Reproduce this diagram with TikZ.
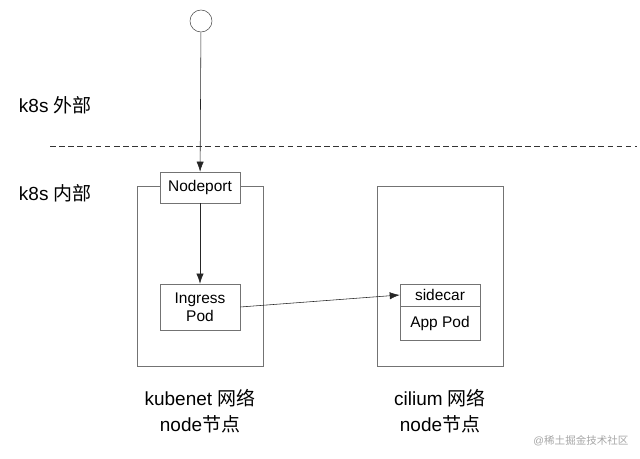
\documentclass[tikz,border=0pt]{standalone}
\usepackage{fontspec}
\setmainfont{Liberation Sans}
\newfontfamily\cjk{Noto Sans CJK SC}
\usetikzlibrary{arrows.meta}
\tikzset{
  hostbox/.style={draw=black!55, minimum width=3.15cm, minimum height=4.5cm},
  podbox/.style={draw=black!55, fill=white, minimum width=2cm, align=center, font=\fontsize{11}{12.5}\selectfont, inner sep=1pt},
  flow/.style={-{Latex[length=2.5mm,width=1.8mm]}, black!85},
  zone/.style={anchor=west, font=\fontsize{13.5}{15}\selectfont},
  hostlabel/.style={align=center, font=\fontsize{13.5}{18.5}\selectfont}
}
\begin{document}
\begin{tikzpicture}[x=0.025cm, y=-0.025cm]
        \useasboundingbox (0,0) rectangle (640,459);
        % zones
        \node[zone] (outside) at (14,105) {k8s {\cjk 外部}};
        \node[zone] (inside) at (14,193) {k8s {\cjk 内部}};
        \coordinate (cutl) at (50,146);
        \coordinate (cutr) at (637,146);
        \draw[dashed, dash pattern=on 4pt off 2.5pt, black!80] (cutl) -- (cutr);
        % hosts
        \node[hostbox] (kubenet) at (200,276) {};
        \node[hostbox] (cilium) at (440,276) {};
        \node[circle, draw=black!70, minimum size=0.55cm, inner sep=0pt] (client) at (201,21) {};
        \node[podbox, minimum height=0.775cm] (nodeport) at (200,187.5) {Nodeport};
        \node[podbox, minimum height=1.15cm] (ingress) at (200,307) {Ingress\\Pod};
        \node[podbox, minimum height=0.55cm] (sidecar) at (440,295) {sidecar};
        \node[podbox, minimum height=0.85cm, anchor=north] (app) at (sidecar.south) {App Pod};
        % traffic
        \draw[flow] (client) -- (nodeport);
        \draw[flow] (nodeport) -- (ingress);
        \draw[flow] (ingress.east) -- (sidecar.west);
        % host names
        \node[hostlabel] (kubenetname) at (200,411) {kubenet {\cjk 网络}\\node{\cjk 节点}};
        \node[hostlabel] (ciliumname) at (440,411) {cilium {\cjk 网络}\\node{\cjk 节点}};
        \node[black!35, font=\fontsize{7.5}{9}\selectfont] (mark) at (581,441) {@{\cjk 稀土掘金技术社区}};
      \end{tikzpicture}
\end{document}
